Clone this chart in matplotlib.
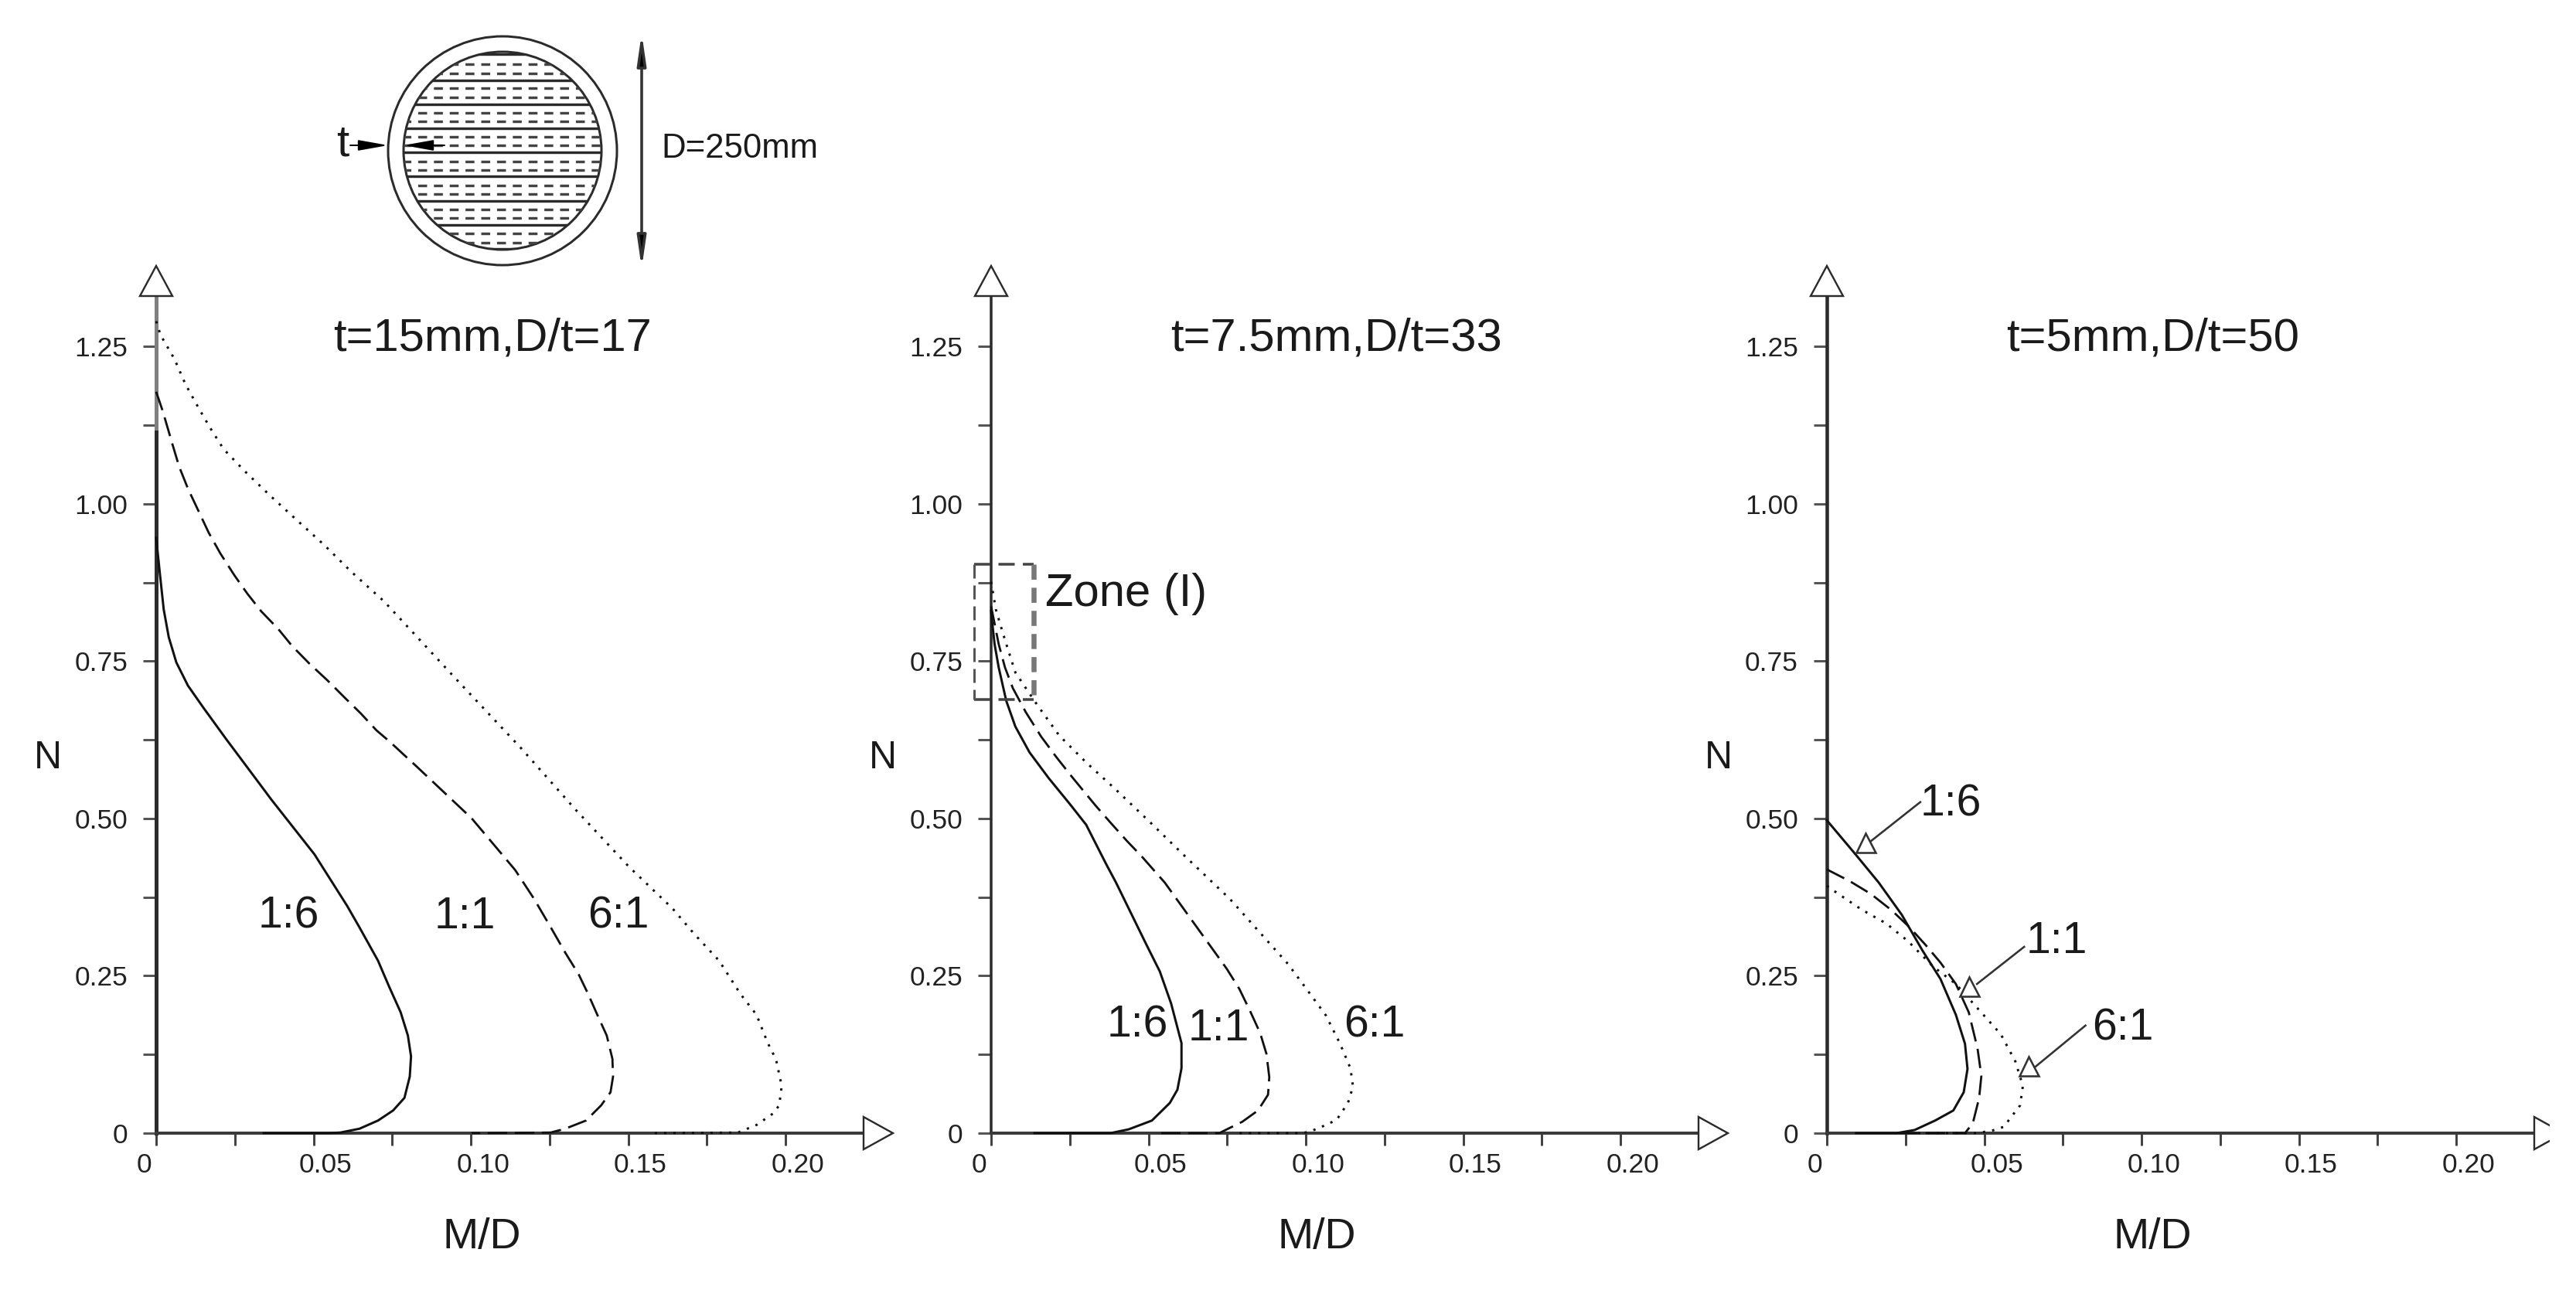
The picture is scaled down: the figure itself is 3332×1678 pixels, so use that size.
import matplotlib
matplotlib.use('Agg')
import matplotlib.pyplot as plt
from matplotlib.patches import Circle, Polygon, Rectangle
from matplotlib.transforms import ScaledTranslation

plt.rcParams['font.family'] = ['Liberation Sans', 'DejaVu Sans']

# size of the picture in pixels
W = 3332
H = 1678
dpi = 100
px = 72 / dpi

# values: t=15mm
m_a_16 = [0, .0012, .0024, .004, .0064, .0101, .015, .0224, .026, .0366, .0503, .0607, .0646, .0705, .0741, .0777, .08, .081, .0806, .0789, .0753, .0705, .0646, .0586, .055, .0342]
n_a_16 = [.946, .888, .832, .788, .748, .711, .676, .625, .601, .53, .443, .361, .327, .274, .232, .192, .155, .122, .09, .056, .036, .02, .007, .001, 0, 0]
m_a_11 = [0, .0021, .0052, .0073, .0101, .0134, .0167, .0204, .0249, .029, .0334, .0388, .0432, .0487, .0543, .0597, .065, .07, .074, .0831, .1003, .1141, .12, .1254, .1301, .1343, .1372, .1402, .1432, .145, .1452, .1444, .1414, .1366, .13, .1254, .1003]
n_a_11 = [1.178, 1.147, 1.094, 1.059, 1.024, .989, .954, .921, .886, .857, .829, .801, .774, .746, .72, .693, .667, .64, .623, .581, .5, .418, .373, .327, .286, .252, .222, .188, .155, .118, .09, .065, .044, .02, .007, .001, 0]
m_a_61 = [0, .0014, .0058, .0093, .0135, .0171, .0214, .0283, .0362, .0447, .0533, .062, .0724, .0828, .0941, .0986, .1159, .1331, .1503, .1641, .1709, .1789, .1857, .1908, .1943, .197, .1988, .198, .196, .1908, .1849, .1567]
n_a_61 = [1.29, 1.268, 1.23, 1.19, 1.152, 1.121, 1.087, 1.051, 1.013, .974, .935, .892, .845, .789, .728, .704, .612, .515, .423, .357, .317, .274, .221, .188, .144, .117, .075, .044, .031, .013, .001, 0]

# t=7.5mm
m_b_16 = [0, .0002, .0011, .0024, .0048, .0077, .0122, .0183, .025, .0302, .0364, .0397, .0491, .0536, .0572, .0605, .0605, .0592, .0568, .0511, .0437, .0379, .029, .0138]
n_b_16 = [.83, .818, .777, .74, .687, .646, .605, .564, .523, .49, .429, .398, .302, .257, .206, .143, .103, .069, .048, .02, .006, 0, 0, 0]
m_b_11 = [0, .0024, .0044, .0069, .011, .0159, .0208, .0257, .0331, .038, .0432, .0478, .0552, .069, .0749, .0789, .0823, .0855, .0875, .0884, .088, .0848, .0798, .0749, .0725, .0528]
n_b_11 = [.837, .777, .74, .707, .669, .63, .597, .566, .521, .493, .464, .44, .398, .302, .261, .229, .194, .159, .126, .089, .061, .036, .018, .006, 0, 0]
m_b_61 = [0, .0015, .0034, .0052, .0077, .0113, .0147, .0216, .0302, .0396, .0503, .0614, .0759, .0884, .0943, .0995, .1064, .1109, .1142, .115, .1134, .1098, .1046, .101, .0985, .0774]
n_b_61 = [.876, .832, .8, .771, .732, .705, .68, .632, .589, .546, .495, .441, .372, .302, .269, .234, .187, .142, .103, .074, .048, .021, .009, .002, 0, 0]

# t=5mm
m_c_16 = [0, .0091, .0165, .0238, .0304, .0361, .041, .0439, .0447, .0435, .0402, .0344, .0279, .0221, .0093]
n_c_16 = [.497, .443, .398, .347, .29, .245, .188, .142, .102, .065, .036, .02, .005, 0, 0]
m_c_11 = [0, .0074, .014, .0206, .0263, .0312, .0361, .041, .0451, .0479, .0491, .0484, .0464, .0439, .0214]
n_c_11 = [.419, .4, .38, .354, .327, .3, .271, .237, .192, .134, .091, .056, .016, 0, 0]
m_c_61 = [0, .0034, .0111, .0189, .0258, .0337, .041, .0476, .0553, .0599, .0623, .0614, .0562, .0525, .0476, .027]
n_c_61 = [.393, .381, .355, .333, .305, .265, .237, .2, .157, .114, .075, .044, .01, .004, 0, 0]

titles = ['t=15mm,D/t=17', 't=7.5mm,D/t=33', 't=5mm,D/t=50']
ratio_labels = ['1:6', '1:1', '6:1']
x_major = [0, .05, .10, .15, .20]
x_minor = [.025, .075, .125, .175]
x_labels = ['0', '0.05', '0.10', '0.15', '0.20']
y_major = [0, .25, .5, .75, 1.0, 1.25]
y_minor = [.125, .375, .625, .875, 1.125]
y_labels = ['0', '0.25', '0.50', '0.75', '1.00', '1.25']

# section sketch, rows are offsets from the centre
bar_rows = [125, 91, 60, 29, -2, -33, -65, -96, -127]
mesh_rows = [112, 100, 81, 69, 49, 38, 18, 7, -14, -25, -45, -56, -76, -87, -107, -119]

dark = '#2b2b2b'
solid = '-'
dashed = (0, (9, 3.5))
dotted = (0, (1, 3))

fig = plt.figure(figsize=(W / dpi, H / dpi), dpi=dpi, facecolor='white')


def make_panel(x0, title, title_x, spine_px):
    # one panel with the two arrow ended axes
    ax = fig.add_axes([x0 / W, (H - 1466) / H, 915 / W, 1083 / H])
    ax.set_xlim(0, 915 / 4070)
    ax.set_ylim(0, 1.33)
    ax.patch.set_alpha(0)
    ax.spines['top'].set_visible(False)
    ax.spines['right'].set_visible(False)
    ax.spines['left'].set_linewidth(spine_px * px)
    ax.spines['bottom'].set_linewidth(4 * px)
    ax.spines['left'].set_color(dark)
    ax.spines['bottom'].set_color('#3a3a3a')

    ax.set_xticks(x_major)
    ax.set_xticks(x_minor, minor=True)
    ax.set_xticklabels(x_labels)
    ax.set_yticks(y_major)
    ax.set_yticks(y_minor, minor=True)
    ax.set_yticklabels(y_labels)
    ax.tick_params(axis='x', which='both', length=16 * px, width=3 * px, color='#444444')
    ax.tick_params(axis='y', which='both', length=17 * px, width=3 * px, color='#555555')
    ax.tick_params(axis='x', labelsize=25.5, pad=9 * px, labelcolor='#222222')
    ax.tick_params(axis='y', labelsize=25.5, pad=20 * px, labelcolor='#222222')

    # tick labels sit a bit to the right of their ticks in the original
    for lab in ax.get_xticklabels():
        shift = -16 if lab.get_text() == '0' else 16
        lab.set_transform(lab.get_transform() + ScaledTranslation(shift / dpi, 0, fig.dpi_scale_trans))

    # hollow arrow heads, figure pixels
    y0 = H - 1466
    top = [(x0 - 21, y0 + 1083), (x0 + 21, y0 + 1083), (x0, y0 + 1122)]
    right = [(x0 + 915, y0 - 21), (x0 + 915, y0 + 21), (x0 + 953, y0)]
    for tri in (top, right):
        fig.add_artist(Polygon([(a / W, b / H) for a, b in tri], closed=True, transform=fig.transFigure,
                               fc='white', ec=dark, lw=2.4 * px, zorder=6))

    ax.text(title_x, 1.262, title, fontsize=43, ha='center', va='center', color='#1a1a1a')
    ax.text(-140 / 4070, .596, 'N', fontsize=36, ha='center', va='center', color='#1a1a1a')
    ax.text(421 / 4070, -.166, 'M/D', fontsize=40, ha='center', va='center', color='#1a1a1a')
    return ax


def curve(ax, m, n, style):
    lw = 3 if style != dashed else 2.8
    ax.plot(m, n, color='#111111', lw=lw * px, ls=style, clip_on=False, zorder=4)


ax1 = make_panel(202, titles[0], .1069, 5)
# the top of this axis is lighter in the original
ax1.plot([0, 0], [1.12, 1.33], color='#808080', lw=5 * px, clip_on=False, zorder=3)
curve(ax1, m_a_16, n_a_16, solid)
curve(ax1, m_a_11, n_a_11, dashed)
curve(ax1, m_a_61, n_a_61, dotted)
for lab, xp in zip(ratio_labels, [.0422, .0981, .1469]):
    ax1.text(xp, .344, lab, fontsize=41, ha='center', va='center', color='#1a1a1a')

ax2 = make_panel(1282, titles[1], .1096, 3.5)
curve(ax2, m_b_16, n_b_16, solid)
curve(ax2, m_b_11, n_b_11, dashed)
curve(ax2, m_b_61, n_b_61, dotted)
for lab, xp, yp in zip(ratio_labels, [.0466, .0724, .1219], [.171, .166, .171]):
    ax2.text(xp, yp, lab, fontsize=41, ha='center', va='center', color='#1a1a1a')
# zone box, the right side is much heavier than the others
for xs, ys, col, wid, sty in [([-.0055, .0134], [.904, .904], '#444444', 3.5, (0, (6, 3))),
                              ([-.0055, .0134], [.689, .689], '#444444', 3.5, (0, (6, 3))),
                              ([-.0055, -.0055], [.904, .689], '#555555', 3, (0, (6, 3))),
                              ([.0134, .0134], [.904, .689], '#777777', 6.5, (0, (3, 1.6)))]:
    ax2.plot(xs, ys, color=col, lw=wid * px, ls=sty, clip_on=False, zorder=5)
ax2.text(.0172, .857, 'Zone (I)', fontsize=43, ha='left', va='center', color='#1a1a1a')

ax3 = make_panel(2363, titles[2], .1037, 4.5)
curve(ax3, m_c_16, n_c_16, solid)
curve(ax3, m_c_11, n_c_11, dashed)
curve(ax3, m_c_61, n_c_61, dotted)
# labels with leaders: text, line start, line end, small triangle
leaders = [(.0395, .522, .0297, .526, .0135, .462, .0123, .4617),
           (.073, .304, .0627, .296, .0477, .237, .0452, .2334),
           (.0941, .166, .0822, .171, .0663, .1056, .0641, .1067)]
for lab, (tx, ty, sx, sy, ex, ey, mx, my) in zip(ratio_labels, leaders):
    ax3.text(tx, ty, lab, fontsize=41, ha='center', va='center', color='#1a1a1a')
    ax3.plot([sx, ex], [sy, ey], color='#333333', lw=2.6 * px, clip_on=False, zorder=6)
    ax3.plot([mx], [my], marker='^', ms=25 * px, mfc='white', mec='#333333', mew=2.6 * px, clip_on=False, zorder=7)

# the right arrow of the last panel is cut by the edge of the picture
fig.add_artist(Rectangle((3298 / W, 0), (W - 3298) / W, 1, transform=fig.transFigure,
                         fc='white', ec='none', zorder=20))

# section sketch, axes in pixels around the centre of the circles
sk = fig.add_axes([250 / W, (H - 395) / H, 800 / W, 395 / H])
sk.set_xlim(-400, 400)
sk.set_ylim(-200, 195)
sk.axis('off')
sk.add_patch(Circle((0, 0), 148, fill=False, ec=dark, lw=3 * px))
inner = Circle((0, 0), 128, fill=False, ec=dark, lw=3 * px)
sk.add_patch(inner)
for row in bar_rows:
    ln, = sk.plot([-130, 130], [row, row], color=dark, lw=3.4 * px)
    ln.set_clip_path(inner)
for row in mesh_rows:
    ln, = sk.plot([-130, 130], [row, row], color='#444444', lw=3.4 * px, ls=(0, (3.4, 2.6)))
    ln.set_clip_path(inner)

# D dimension
sk.annotate('', xy=(180, 152), xytext=(180, -152),
            arrowprops=dict(arrowstyle='<|-|>,head_length=0.9,head_width=0.13', mutation_scale=26,
                            fc='black', ec='#333333', lw=3.6 * px, shrinkA=0, shrinkB=0))
sk.text(205, 3, 'D=250mm', fontsize=31.5, ha='left', va='center', color='#1a1a1a')

# t dimension
sk.text(-207, 8, 't', fontsize=42, ha='center', va='center', color='#1a1a1a')
sk.annotate('', xy=(-148, 7), xytext=(-197, 7),
            arrowprops=dict(arrowstyle='-|>,head_length=0.9,head_width=0.16', mutation_scale=26,
                            fc='black', ec='black', lw=2 * px, shrinkA=0, shrinkB=0))
sk.annotate('', xy=(-128, 7), xytext=(-75, 7),
            arrowprops=dict(arrowstyle='-|>,head_length=0.9,head_width=0.16', mutation_scale=26,
                            fc='black', ec='black', lw=2 * px, shrinkA=0, shrinkB=0))

fig.savefig('out.png', dpi=dpi, facecolor='white')
